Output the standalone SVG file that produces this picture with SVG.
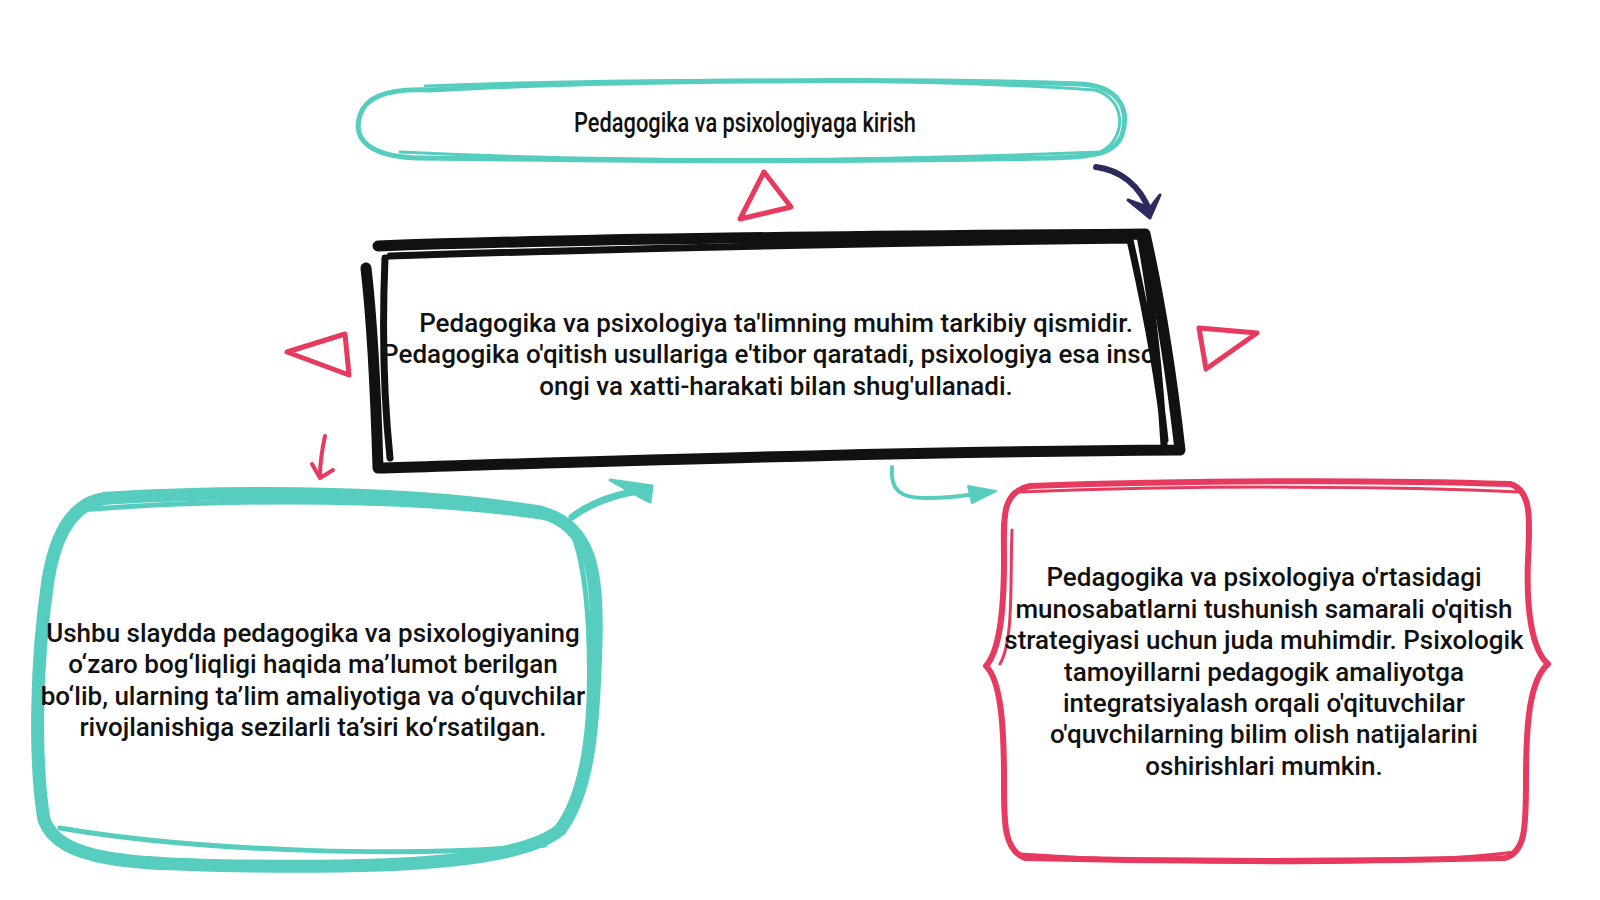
<svg xmlns="http://www.w3.org/2000/svg" width="1600" height="900" viewBox="0 0 1600 900">
<style>
.teal{fill:none;stroke:#56CDBF;stroke-linecap:round;stroke-linejoin:round}
.red{fill:none;stroke:#E63A5F;stroke-linecap:round;stroke-linejoin:round}
.blk{fill:none;stroke:#111;stroke-linecap:round;stroke-linejoin:round}
.txt{font-family:Roboto,"Liberation Sans",sans-serif;font-size:26px;font-weight:500;fill:#111;text-anchor:middle}
.ttl{font-family:Roboto,"Liberation Sans",sans-serif;font-size:27px;font-weight:500;fill:#111;text-anchor:middle}
</style>
<defs>
<clipPath id="cc"><rect x="385" y="240" width="770" height="220"/></clipPath>
</defs>
<rect width="1600" height="900" fill="#fff"/>

<g id="title">
<path class="teal" stroke-width="5" d="M430,90 C600,80 900,78 1080,84 C1120,86 1130,110 1122,135 C1115,155 1090,157 1050,158 C800,163 600,160 420,158 C370,157 352,140 360,115 C366,96 390,88 430,90"/>
<path class="teal" stroke-width="3" d="M425,86 C700,76 950,80 1095,90 C1128,100 1126,140 1100,152 C900,160 650,164 400,152"/>
<text class="ttl" x="745" y="132" textLength="342" lengthAdjust="spacingAndGlyphs">Pedagogika va psixologiyaga kirish</text>
</g>

<g id="center">
<text class="txt" clip-path="url(#cc)"><tspan x="776" y="332">Pedagogika va psixologiya ta'limning muhim tarkibiy qismidir.</tspan><tspan x="776" y="363">Pedagogika o'qitish usullariga e'tibor qaratadi, psixologiya esa inson</tspan><tspan x="776" y="395">ongi va xatti-harakati bilan shug'ullanadi.</tspan></text>
<path class="blk" stroke-width="11" d="M378,246 C600,238 900,236 1145,234 C1160,300 1172,380 1180,450 C900,452 650,460 378,468 C376,400 372,320 366,268"/>
<path class="blk" stroke-width="7" d="M390,256 C700,246 950,242 1130,240 C1148,320 1160,390 1165,440 M385,258 C382,330 384,400 390,458 M1140,236 C1152,300 1160,380 1164,445"/>
</g>

<g id="left">
<path class="teal" stroke-width="13" d="M110,498 C250,490 420,492 540,512 C590,525 598,570 596,640 C594,720 590,790 560,830 C520,862 400,868 250,866 C130,864 60,862 44,820 C34,760 36,660 48,580 C56,530 75,500 110,498"/>
<path class="teal" stroke-width="5" d="M80,510 C230,498 430,498 560,520 M575,540 C595,600 592,740 580,800 M60,828 C200,852 420,858 545,845"/>
<text class="txt"><tspan x="313" y="642">Ushbu slaydda pedagogika va psixologiyaning</tspan><tspan x="313" y="673">o‘zaro bog‘liqligi haqida ma’lumot berilgan</tspan><tspan x="313" y="705">bo‘lib, ularning ta’lim amaliyotiga va o‘quvchilar</tspan><tspan x="313" y="736">rivojlanishiga sezilarli ta’siri ko‘rsatilgan.</tspan></text>
</g>

<g id="right">
<path class="red" stroke-width="6" d="M1030,486 C1200,480 1380,480 1510,484 C1532,490 1530,520 1528,560 C1526,610 1532,650 1548,664 C1530,680 1526,720 1526,780 C1526,830 1525,852 1505,858 C1350,862 1180,862 1025,858 C1003,850 1004,820 1004,780 C1004,720 1000,680 986,666 C1000,650 1004,610 1004,560 C1004,520 1000,492 1030,486"/>
<path class="red" stroke-width="3" d="M1020,492 C1200,485 1400,486 1520,492 M1012,530 C1010,580 1014,640 1000,664 M1020,854 C1200,866 1400,866 1515,852"/>
<text class="txt"><tspan x="1264" y="586">Pedagogika va psixologiya o'rtasidagi</tspan><tspan x="1264" y="618">munosabatlarni tushunish samarali o'qitish</tspan><tspan x="1264" y="649">strategiyasi uchun juda muhimdir. Psixologik</tspan><tspan x="1264" y="681">tamoyillarni pedagogik amaliyotga</tspan><tspan x="1264" y="712">integratsiyalash orqali o'qituvchilar</tspan><tspan x="1264" y="743">o'quvchilarning bilim olish natijalarini</tspan><tspan x="1264" y="775">oshirishlari mumkin.</tspan></text>
</g>

<g id="triangles">
<path class="red" stroke-width="5" d="M764,172 L791,207 L740,219 Z"/>
<path class="red" stroke-width="5" d="M287,352 L345,334 L349,375 Z"/>
<path class="red" stroke-width="5" d="M1199,328 L1257,333 L1206,369 Z"/>
</g>

<g id="connectors">
<path fill="none" stroke="#2B2B5E" stroke-width="6" stroke-linecap="round" d="M1096,167 C1120,170 1140,185 1150,212"/>
<path fill="#2B2B5E" stroke="#2B2B5E" stroke-width="3" stroke-linejoin="round" d="M1128,200 L1150,218 L1160,195 L1150,208 Z"/>
<path class="red" stroke-width="4" d="M325,436 C322,450 320,462 320,476"/>
<path class="red" stroke-width="4" d="M312,464 L320,478 L333,470"/>
<path class="teal" stroke-width="7" d="M572,517 C595,500 620,493 646,490"/>
<path fill="#56CDBF" stroke="#56CDBF" stroke-width="3" stroke-linejoin="round" d="M610,480 L652,486 L650,502 L642,498 Z"/>
<path class="teal" stroke-width="4" d="M892,467 C890,490 900,498 925,498 C950,498 965,496 980,493"/>
<path fill="#56CDBF" stroke="#56CDBF" stroke-width="2" stroke-linejoin="round" d="M968,486 L996,491 L972,503 Z"/>
</g>
</svg>
